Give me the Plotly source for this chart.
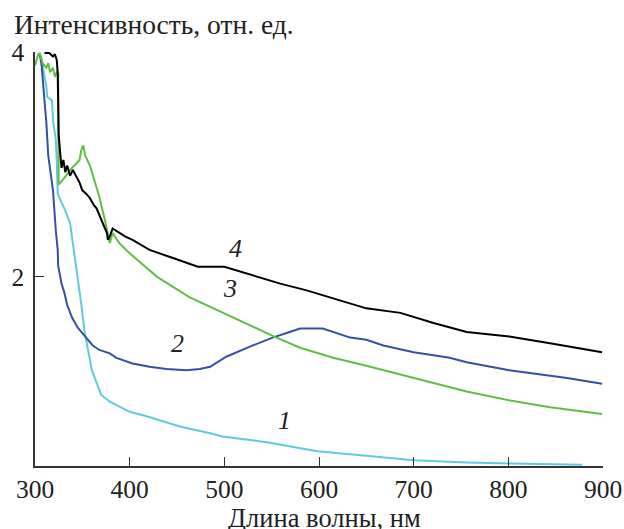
import plotly.graph_objects as go

# Spectra: wavelength (nm) and intensity (rel. units)
x1 = [303, 307, 308, 312, 313, 318, 319, 322, 323, 324, 328, 331, 337, 340, 344, 346, 349, 352,
      356, 360, 365, 370, 379, 400, 418, 453, 485, 498, 545, 598, 650, 700, 756, 801, 878]
y1 = [3.99, 3.94, 3.88, 3.69, 3.60, 3.57, 3.39, 3.22, 3.04, 2.74, 2.66, 2.61, 2.48, 2.30, 2.09,
      1.93, 1.75, 1.53, 1.35, 1.17, 1.06, 0.95, 0.89, 0.80, 0.76, 0.67, 0.61, 0.58, 0.53, 0.45,
      0.41, 0.37, 0.35, 0.34, 0.33]

x2 = [305, 307, 310, 312, 314, 319, 322, 324, 324.5, 326, 328, 331, 334, 339, 345, 350, 361, 368,
      379, 386, 403, 421, 439, 460, 474, 485, 502, 527, 551, 569, 580, 604, 615, 633, 650, 668,
      700, 738, 756, 801, 862, 899]
y2 = [3.99, 3.88, 3.57, 3.37, 3.08, 2.77, 2.41, 2.24, 2.10, 2.02, 1.94, 1.86, 1.75, 1.64, 1.55,
      1.50, 1.39, 1.35, 1.32, 1.28, 1.23, 1.20, 1.18, 1.17, 1.18, 1.20, 1.29, 1.38, 1.46, 1.51,
      1.54, 1.54, 1.51, 1.46, 1.44, 1.39, 1.33, 1.28, 1.24, 1.17, 1.10, 1.05]

x3 = [300, 303, 305, 308, 312, 314, 316, 319, 321, 323, 324.5, 325, 331, 339, 344, 347, 349, 351,
      353, 358, 362, 368, 374, 379, 382, 389, 400, 429, 463, 509, 555, 580, 615, 650, 700, 756,
      802, 844, 899]
y3 = [3.88, 3.97, 3.99, 3.90, 3.86, 3.90, 3.82, 3.86, 3.78, 3.82, 3.81, 2.82, 2.88, 2.97, 3.01,
      3.04, 3.13, 3.17, 3.08, 2.99, 2.88, 2.71, 2.50, 2.30, 2.39, 2.30, 2.21, 2.00, 1.82, 1.64,
      1.46, 1.37, 1.28, 1.21, 1.10, 0.98, 0.90, 0.84, 0.78]

x4 = [310, 315, 319, 321, 323, 324, 325, 326, 328, 330, 332, 334, 337, 340, 344, 347, 350, 354,
      358, 362, 365, 368, 373, 376, 377, 379, 382, 387, 395, 403, 421, 445, 472, 500, 527, 559,
      587, 611, 650, 686, 721, 756, 801, 844, 899]
y4 = [3.99, 3.99, 3.96, 3.98, 3.93, 3.81, 3.26, 3.13, 2.97, 3.04, 2.93, 2.99, 2.90, 2.95, 2.88,
      2.84, 2.77, 2.74, 2.70, 2.64, 2.61, 2.55, 2.46, 2.39, 2.33, 2.36, 2.43, 2.40, 2.36, 2.33,
      2.24, 2.17, 2.09, 2.09, 2.02, 1.94, 1.88, 1.82, 1.72, 1.68, 1.59, 1.51, 1.47, 1.41, 1.33]

# Curve numbers and where they sit
label_text = ["1", "2", "3", "4"]
label_x = [564, 450, 506, 512]
label_y = [0.726, 1.41, 1.90, 2.255]

x_ticks = [300, 400, 500, 600, 700, 800, 900]
y_ticks = [2, 4]

series = [
    (x1, y1, "#5fcadd"),
    (x2, y2, "#3450a8"),
    (x3, y3, "#62bd45"),
    (x4, y4, "#000000"),
]

fig = go.Figure()
for xs, ys, col in series:
    fig.add_trace(go.Scatter(x=xs, y=ys, mode="lines",
                             line=dict(color=col, width=2), showlegend=False,
                             hoverinfo="skip"))

serif = "Liberation Serif"
for t, lx, ly in zip(label_text, label_x, label_y):
    fig.add_annotation(x=lx, y=ly, text=f"<i>{t}</i>", showarrow=False,
                       font=dict(family=serif, size=26, color="#222222"))

# plot area spans 413.5 px vertically, 568 px horizontally
fig.add_annotation(xref="paper", yref="paper", x=-0.0405, y=1.0 + 27 / 413.5,
                   xanchor="left", yanchor="middle", showarrow=False,
                   text="Интенсивность, отн. ед.",
                   font=dict(family=serif, size=27.5, color="#222222"))
fig.add_annotation(xref="paper", yref="paper", x=0.51, y=-0.126,
                   xanchor="center", yanchor="middle", showarrow=False,
                   text="Длина волны, нм",
                   font=dict(family=serif, size=26.5, color="#222222"))

axis_common = dict(showgrid=False, zeroline=False, showline=True, automargin=False,
                   linecolor="#333333", linewidth=1.5, ticks="inside",
                   ticklen=9, tickwidth=1.2, tickcolor="#333333",
                   tickfont=dict(family=serif, size=25.5, color="#222222"))

fig.update_xaxes(range=[300, 900], tickvals=x_ticks, ticktext=[str(v) for v in x_ticks],
                 ticklabelstandoff=0, **axis_common)
fig.update_yaxes(range=[0.318, 4.0], tickvals=y_ticks, ticktext=[str(v) for v in y_ticks],
                 ticklabelstandoff=4, **axis_common)

fig.update_layout(width=624, height=529, plot_bgcolor="white", paper_bgcolor="white",
                  margin=dict(l=35, r=21, t=52, b=63))

fig.write_html("out.html")
